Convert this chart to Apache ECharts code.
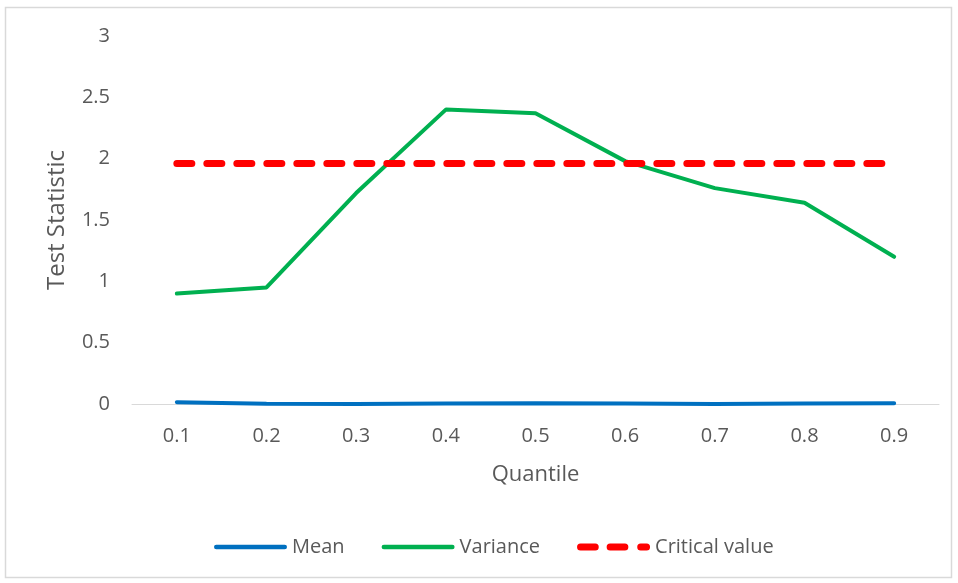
<!DOCTYPE html>
<html><head><meta charset="utf-8">
<script src="https://cdn.jsdelivr.net/npm/echarts@6/dist/echarts.min.js"></script>
<style>html,body{margin:0;padding:0;background:#fff}#c{width:958px;height:583px}</style>
</head><body><div id="c"></div>
<script>
const categories = ['0.1','0.2','0.3','0.4','0.5','0.6','0.7','0.8','0.9'];
const meanValues = [0.015,0.002,0.001,0.005,0.006,0.005,0.001,0.005,0.006];
const varianceValues = [0.90,0.95,1.72,2.40,2.37,1.98,1.76,1.64,1.20];
const criticalValues = [1.96,1.96,1.96,1.96,1.96,1.96,1.96,1.96,1.96];
const yTicks = {min:0,max:3,interval:0.5};

const font = '"Open Sans", "Liberation Sans", sans-serif';
const solidIcon = 'path://M0,0h0.01v0.01h-0.01z M0,6.99h0.01v0.01h-0.01z M2.25,1.25 h67.5 a2.25,2.25 0 0 1 0,4.5 h-67.5 a2.25,2.25 0 0 1 0,-4.5z';
const dashIcon = 'path://M3.5,0 h15 a3.5,3.5 0 0 1 0,7 h-15 a3.5,3.5 0 0 1 0,-7z M33.5,0 h15 a3.5,3.5 0 0 1 0,7 h-15 a3.5,3.5 0 0 1 0,-7z M64.5,0 h6 a3.5,3.5 0 0 1 0,7 h-6 a3.5,3.5 0 0 1 0,-7z';
const chart = echarts.init(document.getElementById('c'));
chart.setOption({
  animation:false,
  backgroundColor:'#fff',
  graphic:[{type:'rect',shape:{x:5.5,y:7.5,width:946,height:570},style:{fill:'none',stroke:'#d9d9d9',lineWidth:1.5},z:-1}],
  grid:{left:132,right:19,top:36,bottom:179},
  xAxis:{type:'category',data:categories,boundaryGap:true,
    name:'Quantile',nameLocation:'middle',nameGap:60,
    nameTextStyle:{color:'#595959',fontSize:22,fontFamily:font},
    axisLine:{lineStyle:{color:'#d9d9d9',width:1}},axisTick:{show:false},
    axisLabel:{color:'#595959',fontSize:20,fontFamily:font,margin:22}},
  yAxis:{type:'value',min:yTicks.min,max:yTicks.max,interval:yTicks.interval,
    name:'Test Statistic',nameLocation:'middle',nameGap:63,
    nameTextStyle:{color:'#595959',fontSize:24,fontFamily:font},
    axisLine:{show:false},axisTick:{show:false},splitLine:{show:false},
    axisLabel:{color:'#595959',fontSize:20,fontFamily:font,margin:22}},
  legend:{top:532,left:209,itemWidth:73,itemHeight:7,itemGap:37,symbolKeepAspect:false,
    textStyle:{color:'#595959',fontSize:20,fontFamily:font},
    data:[{name:'Mean',icon:solidIcon},{name:'Variance',icon:solidIcon},{name:'Critical value',icon:dashIcon}]},
  series:[
    {name:'Mean',type:'line',data:meanValues,symbol:'none',
      lineStyle:{color:'#0070c0',width:4,cap:'round'},itemStyle:{color:'#0070c0'}},
    {name:'Variance',type:'line',data:varianceValues,symbol:'none',
      lineStyle:{color:'#00b050',width:4,cap:'round'},itemStyle:{color:'#00b050'}},
    {name:'Critical value',type:'line',data:criticalValues,symbol:'none',
      lineStyle:{color:'#ff0000',width:7,type:[15,15],cap:'round'},itemStyle:{color:'#ff0000'}}
  ]
});
</script></body></html>
